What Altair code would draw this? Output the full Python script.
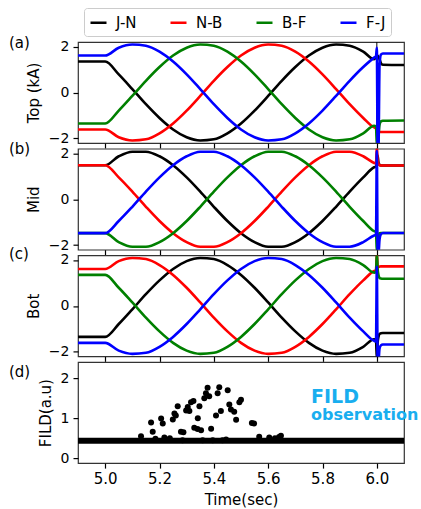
import altair as alt
import pandas as pd

FONT = "DejaVu Sans"

# ---------------- data ----------------
series_names = ["J-N", "N-B", "B-F", "F-J"]
series_colors = ["#000000", "#ff0000", "#008000", "#0000ff"]

t_main = [4.90, 5.00, 5.05, 5.10, 5.15, 5.20, 5.25, 5.30, 5.35, 5.40, 5.45,
          5.50, 5.55, 5.60, 5.65, 5.70, 5.75, 5.80, 5.85, 5.90, 5.95, 5.99]
t_tail = [5.997, 6.000, 6.003, 6.006, 6.010, 6.015, 6.022, 6.100]

# Top coil currents (kA)
top_JN = [1.35, 1.35, 0.79, 0.15, -0.51, -1.11, -1.61, -1.95, -2.09, -2.04, -1.78,
          -1.35, -0.79, -0.15, 0.51, 1.11, 1.61, 1.95, 2.09, 2.04, 1.78, 1.45]
top_NB = [-1.61, -1.61, -1.95, -2.09, -2.04, -1.78, -1.35, -0.79, -0.15, 0.51, 1.11,
          1.61, 1.95, 2.09, 2.04, 1.78, 1.35, 0.79, 0.15, -0.51, -1.11, -1.52]
top_BF = [-1.35, -1.35, -0.79, -0.15, 0.51, 1.11, 1.61, 1.95, 2.09, 2.04, 1.78,
          1.35, 0.79, 0.15, -0.51, -1.11, -1.61, -1.95, -2.09, -2.04, -1.78, -1.45]
top_FJ = [1.61, 1.61, 1.95, 2.09, 2.04, 1.78, 1.35, 0.79, 0.15, -0.51, -1.11,
          -1.61, -1.95, -2.09, -2.04, -1.78, -1.35, -0.79, -0.15, 0.51, 1.11, 1.52]
top_JN_tail = [1.55, 1.60, 1.60, 1.55, 1.45, 1.28, 1.21, 1.20]
top_NB_tail = [-1.55, -1.60, -1.65, -1.70, -1.72, -1.72, -1.72, -1.72]
top_BF_tail = [-1.48, -2.30, -2.30, -1.90, -1.40, -1.26, -1.23, -1.22]
top_FJ_tail = [1.58, 1.95, -2.40, -2.40, 1.20, 1.65, 1.70, 1.70]

# Mid coil currents
mid_JN = [1.48, 1.48, 1.87, 2.07, 2.07, 1.87, 1.48, 0.95, 0.33, -0.33, -0.95,
          -1.48, -1.87, -2.07, -2.07, -1.87, -1.48, -0.95, -0.33, 0.33, 0.95, 1.39]
mid_NB = [1.48, 1.48, 0.95, 0.33, -0.33, -0.95, -1.48, -1.87, -2.07, -2.07, -1.87,
          -1.48, -0.95, -0.33, 0.33, 0.95, 1.48, 1.87, 2.07, 2.07, 1.87, 1.58]
mid_BF = [-1.48, -1.48, -1.87, -2.07, -2.07, -1.87, -1.48, -0.95, -0.33, 0.33, 0.95,
          1.48, 1.87, 2.07, 2.07, 1.87, 1.48, 0.95, 0.33, -0.33, -0.95, -1.39]
mid_FJ = [-1.48, -1.48, -0.95, -0.33, 0.33, 0.95, 1.48, 1.87, 2.07, 2.07, 1.87,
          1.48, 0.95, 0.33, -0.33, -0.95, -1.48, -1.87, -2.07, -2.07, -1.87, -1.58]
mid_JN_tail = [1.42, 1.60, 1.90, 1.60, 1.50, 1.47, 1.47, 1.47]
mid_NB_tail = [1.55, 2.30, 1.70, 1.55, 1.48, 1.47, 1.47, 1.47]
mid_BF_tail = [-1.42, -2.30, -1.70, -1.55, -1.48, -1.47, -1.47, -1.47]
mid_FJ_tail = [-1.55, 2.10, -2.40, -2.40, -1.75, -1.52, -1.47, -1.47]

# Bottom coil currents
bot_JN = [-1.35, -1.35, -0.79, -0.15, 0.51, 1.11, 1.61, 1.95, 2.09, 2.04, 1.78,
          1.35, 0.79, 0.15, -0.51, -1.11, -1.61, -1.95, -2.09, -2.04, -1.78, -1.45]
bot_NB = [1.61, 1.61, 1.95, 2.09, 2.04, 1.78, 1.35, 0.79, 0.15, -0.51, -1.11,
          -1.61, -1.95, -2.09, -2.04, -1.78, -1.35, -0.79, -0.15, 0.51, 1.11, 1.52]
bot_BF = [1.35, 1.35, 0.79, 0.15, -0.51, -1.11, -1.61, -1.95, -2.09, -2.04, -1.78,
          -1.35, -0.79, -0.15, 0.51, 1.11, 1.61, 1.95, 2.09, 2.04, 1.78, 1.45]
bot_FJ = [-1.61, -1.61, -1.95, -2.09, -2.04, -1.78, -1.35, -0.79, -0.15, 0.51, 1.11,
          1.61, 1.95, 2.09, 2.04, 1.78, 1.35, 0.79, 0.15, -0.51, -1.11, -1.52]
bot_JN_tail = [-1.48, -2.30, -1.60, -1.35, -1.22, -1.19, -1.18, -1.18]
bot_NB_tail = [1.55, 2.30, 1.75, 1.70, 1.71, 1.72, 1.72, 1.72]
bot_BF_tail = [1.48, 2.30, 1.60, 1.35, 1.22, 1.19, 1.18, 1.18]
bot_FJ_tail = [-1.55, 1.70, -2.40, -2.40, -1.85, -1.72, -1.68, -1.68]

event_t = [6.0]

# FILD signal
base_t = [4.90, 5.10, 5.30, 5.50, 5.70, 5.90, 6.10]
base_v = [0.44, 0.44, 0.44, 0.44, 0.44, 0.44, 0.44]
fild_t = [5.132, 5.169, 5.175, 5.206, 5.212, 5.218, 5.238, 5.249, 5.255, 5.260,
          5.267, 5.279, 5.288, 5.285, 5.298, 5.304, 5.310, 5.316, 5.325, 5.328,
          5.340, 5.341, 5.347, 5.353, 5.359, 5.365, 5.371, 5.377, 5.383, 5.390,
          5.396, 5.408, 5.414, 5.420, 5.426, 5.432, 5.445, 5.451, 5.457, 5.463,
          5.475, 5.482, 5.494, 5.500, 5.540, 5.548, 5.567, 5.604, 5.640, 5.647,
          5.185, 5.625]
fild_v = [0.55, 0.89, 0.66, 0.99, 0.87, 0.52, 0.50, 0.97, 1.12, 1.07,
          1.30, 0.66, 0.65, 0.45, 1.19, 1.28, 1.18, 1.40, 1.43, 0.76,
          0.73, 1.00, 1.30, 0.70, 0.45, 1.50, 1.62, 1.76, 1.55, 0.74,
          0.45, 1.07, 1.62, 1.77, 1.18, 0.45, 0.47, 1.70, 1.34, 1.22,
          1.16, 0.96, 1.40, 1.46, 0.88, 0.87, 0.54, 0.52, 0.53, 0.56,
          0.49, 0.50]

x_ticks = [5.0, 5.2, 5.4, 5.6, 5.8, 6.0]

# ---------------- chart ----------------
W, H = 326, 101
x_scale = alt.Scale(domain=[4.9, 6.1], nice=False, zero=False)


def coil_df(items):
    rows = []
    for name, main, tail in items:
        for t, v in zip(t_main + t_tail, main + tail):
            rows.append({"t": t, "v": v, "coil": name})
    return pd.DataFrame(rows)


def panel_label(text, dy):
    return alt.Chart(pd.DataFrame({"lab": [text]})).mark_text(
        align="left", baseline="middle", fontSize=15, font=FONT, color="black"
    ).encode(text="lab:N", x=alt.value(-69), y=alt.value(dy))


def coil_panel(df, ytitle, label, label_dy, legend):
    color = alt.Color(
        "coil:N",
        scale=alt.Scale(domain=series_names, range=series_colors),
        legend=legend,
    )
    lines = alt.Chart(df).mark_line(
        strokeWidth=2.6, interpolate="monotone", clip=True
    ).encode(
        x=alt.X("t:Q", scale=x_scale,
                axis=alt.Axis(values=x_ticks, labels=False, title=None)),
        y=alt.Y("v:Q", scale=alt.Scale(domain=[-2.2, 2.2], nice=False, zero=False),
                axis=alt.Axis(values=[-2, 0, 2], title=ytitle, labelFontSize=14)),
        color=color,
    )
    rule = alt.Chart(pd.DataFrame({"t": event_t})).mark_rule(
        color="black", strokeWidth=1
    ).encode(x=alt.X("t:Q", scale=x_scale))
    return alt.layer(rule, lines, panel_label(label, label_dy)).properties(
        width=W, height=H
    )


legend_a = alt.Legend(
    orient="none", legendX=6, legendY=-34, direction="horizontal", title=None,
    symbolType="stroke", symbolSize=256, symbolStrokeWidth=2.5,
    labelFont=FONT, labelFontSize=15, labelColor="black", labelOffset=8,
    columnPadding=28, padding=5, strokeColor="#cccccc", cornerRadius=3,
    fillColor="white",
)

df_top = coil_df([("J-N", top_JN, top_JN_tail), ("N-B", top_NB, top_NB_tail),
                  ("B-F", top_BF, top_BF_tail), ("F-J", top_FJ, top_FJ_tail)])
df_mid = coil_df([("J-N", mid_JN, mid_JN_tail), ("N-B", mid_NB, mid_NB_tail),
                  ("B-F", mid_BF, mid_BF_tail), ("F-J", mid_FJ, mid_FJ_tail)])
df_bot = coil_df([("J-N", bot_JN, bot_JN_tail), ("N-B", bot_NB, bot_NB_tail),
                  ("B-F", bot_BF, bot_BF_tail), ("F-J", bot_FJ, bot_FJ_tail)])

pa = coil_panel(df_top, "Top (kA)", "(a)", 1, legend_a)
pb = coil_panel(df_mid, "Mid", "(b)", 0, None)
pc = coil_panel(df_bot, "Bot", "(c)", -1, None)

fild_y = alt.Scale(domain=[-0.12, 2.4], nice=False, zero=False)
base_line = alt.Chart(pd.DataFrame({"t": base_t, "v": base_v})).mark_line(
    color="black", strokeWidth=6, clip=True
).encode(
    x=alt.X("t:Q", scale=x_scale,
            axis=alt.Axis(values=x_ticks, format=".1f", title="Time(sec)",
                          labelPadding=3.5, titlePadding=6)),
    y=alt.Y("v:Q", scale=fild_y,
            axis=alt.Axis(values=[0, 1, 2], title="FILD(a.u)", labelFontSize=14)),
)
fild_pts = alt.Chart(pd.DataFrame({"t": fild_t, "v": fild_v})).mark_circle(
    color="black", size=36, opacity=1
).encode(x=alt.X("t:Q", scale=x_scale), y=alt.Y("v:Q", scale=fild_y))
txt_fild = alt.Chart(pd.DataFrame({"s": ["FILD"]})).mark_text(
    align="left", baseline="alphabetic", font=FONT, fontSize=19,
    fontWeight="bold", color="#19aeef"
).encode(text="s:N", x=alt.value(233), y=alt.value(41))
txt_obs = alt.Chart(pd.DataFrame({"s": ["observation"]})).mark_text(
    align="left", baseline="alphabetic", font=FONT, fontSize=16,
    fontWeight="bold", color="#19aeef"
).encode(text="s:N", x=alt.value(233), y=alt.value(58))

pdd = alt.layer(base_line, fild_pts, txt_fild, txt_obs,
                panel_label("(d)", 10)).properties(width=W, height=H)

chart = alt.vconcat(pa, pb, pc, pdd, spacing=5.7, bounds="flush").resolve_scale(
    color="independent"
).properties(
    padding={"left": 8, "top": 6, "right": 0, "bottom": 0}
).configure_axis(
    labelFont=FONT, titleFont=FONT, labelFontSize=15, titleFontSize=15,
    labelColor="black", titleColor="black", titleFontWeight="normal",
    tickColor="black", tickSize=5, tickWidth=1.2, domain=False, grid=False,
    labelPadding=4, titlePadding=7,
).configure_view(stroke="#333333", strokeWidth=1.2)

chart.save("out.html", embed_options={"renderer": "svg", "actions": False})
